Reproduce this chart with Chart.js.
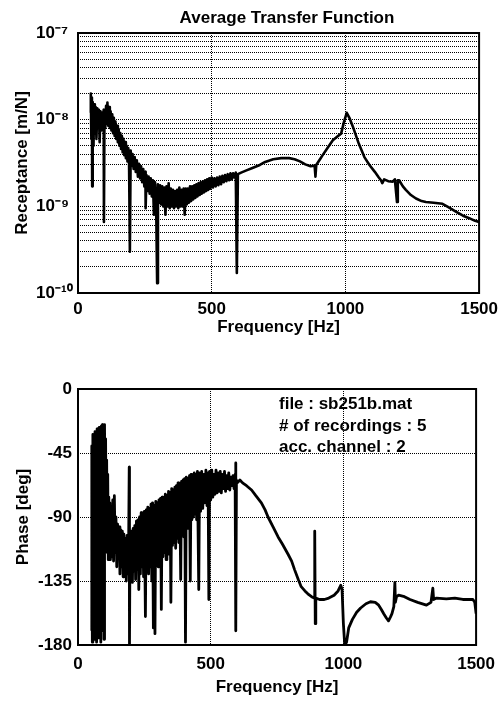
<!DOCTYPE html>
<html><head><meta charset="utf-8">
<script src="https://cdn.jsdelivr.net/npm/chart.js@4.4.0/dist/chart.umd.min.js"></script>
<style>
html,body{margin:0;padding:0;background:#fff;}
canvas{display:block;}
</style></head><body>
<canvas id="c1" width="504" height="340"></canvas>
<canvas id="c2" width="504" height="363"></canvas>
<script>
// ---------- data ----------
const chartTitle = 'Average Transfer Function';
const magAxisTitle = 'Receptance [m/N]';
const phaseAxisTitle = 'Phase [deg]';
const freqAxisTitle = 'Frequency [Hz]';
const infoLines = ['file : sb251b.mat', '# of recordings : 5', 'acc. channel : 2'];
const freqTicks = [0, 500, 1000, 1500];
const magDecades = [-10, -9, -8, -7];
const phaseTicks = [0, -45, -90, -135, -180];

const magFreq = [
45,48,50,52,53,55,58,60,63,66,69,72,75,78,81,84,87,90,93,96,97,99,
102,105,108,110,113,116,119,122,125,128,131,134,137,140,143,146,149,
152,155,158,161,164,167,170,173,176,179,182,185,188,191,194,197,200,
204,208,212,216,220,224,228,232,236,240,244,248,252,253,256,260,264,268,272,276,280,284,288,292,296,299,
303,307,311,315,319,323,327,331,335,339,343,347,351,355,359,363,367,371,375,379,383,387,391,395,399,
403,407,411,415,419,423,427,431,435,439,443,447,451,455,459,463,467,471,475,479,483,487,491,495,500,
505,510,515,520,525,530,535,540,545,550,555,560,565,570,575,580,585,590,594,598,
610,630,650,680,700,730,760,790,810,830,850,870,885,888,891,905,915,935,953,970,984,995,1005,1015,1028,
1050,1071,1090,1110,1125,1133,1138,1145,1160,1177,1185,1193,1196,1201,1215,1226,1245,1264,1285,1301,
1330,1363,1385,1413,1440,1463,1485,1500];
const magValue = [
1.2e-8,2.0e-8,6e-9,1.8e-8,1.7e-9,1.6e-8,5e-9,1.5e-8,7e-9,1.4e-8,6e-9,1.35e-8,8e-9,1.3e-8,5.5e-9,1.25e-8,7.5e-9,1.2e-8,8e-9,1.3e-8,6.6e-10,1.2e-8,
8e-9,1.45e-8,9e-9,1.58e-8,8.5e-9,1.4e-8,8e-9,1.25e-8,7.5e-9,1.15e-8,7e-9,1.05e-8,6.5e-9,9.5e-9,6e-9,8.5e-9,5.5e-9,
7.8e-9,5e-9,7e-9,4.6e-9,6.5e-9,4.2e-9,6e-9,3.9e-9,5.5e-9,3.6e-9,5e-9,3.3e-9,4.7e-9,3.1e-9,3.0e-10,4.4e-9,2.9e-9,
4.0e-9,2.7e-9,3.7e-9,2.5e-9,3.4e-9,2.2e-9,3.1e-9,2.1e-9,2.9e-9,1.9e-9,2.7e-9,1.7e-9,2.5e-9,9.5e-10,2.3e-9,1.5e-9,2.2e-9,1.4e-9,2.1e-9,1.3e-9,2.0e-9,8e-10,1.9e-9,1.2e-9,1.3e-10,1.8e-9,
1.1e-9,1.75e-9,1.05e-9,1.7e-9,1.0e-9,1.65e-9,8e-10,1.7e-9,1.0e-9,1.85e-9,9.5e-10,1.6e-9,1.0e-9,1.55e-9,9.5e-10,1.5e-9,1.0e-9,1.55e-9,9.5e-10,1.65e-9,1.0e-9,1.55e-9,1.0e-9,1.6e-9,8e-10,
1.6e-9,1.05e-9,1.6e-9,1.1e-9,1.7e-9,1.15e-9,1.7e-9,1.2e-9,1.75e-9,1.25e-9,1.8e-9,1.3e-9,1.85e-9,1.35e-9,1.9e-9,1.4e-9,1.95e-9,1.45e-9,2.0e-9,1.5e-9,2.05e-9,1.55e-9,2.1e-9,1.6e-9,2.15e-9,
1.65e-9,2.1e-9,1.7e-9,2.15e-9,1.75e-9,2.2e-9,1.8e-9,2.25e-9,1.9e-9,2.3e-9,1.95e-9,2.35e-9,2.0e-9,2.4e-9,2.05e-9,2.4e-9,2.15e-9,2.45e-9,1.7e-10,2.35e-9,
2.45e-9,2.6e-9,2.75e-9,3.0e-9,3.25e-9,3.5e-9,3.6e-9,3.6e-9,3.5e-9,3.3e-9,3.05e-9,2.9e-9,2.95e-9,2.2e-9,3.0e-9,3.5e-9,3.9e-9,4.8e-9,5.8e-9,6.4e-9,6.9e-9,9.5e-9,1.2e-8,1.05e-8,8.3e-9,
5.3e-9,3.7e-9,3.0e-9,2.5e-9,2.15e-9,2.0e-9,1.85e-9,2.05e-9,1.95e-9,1.93e-9,2.05e-9,1.12e-9,2.0e-9,2.0e-9,1.7e-9,1.55e-9,1.35e-9,1.23e-9,1.15e-9,1.12e-9,
1.1e-9,1.07e-9,9.8e-10,8.7e-10,7.8e-10,7.3e-10,6.8e-10,6.6e-10];

const phaseFreq = [
50,52,54,56,58,60,62,64,66,68,70,72,74,76,78,80,82,84,86,88,90,92,94,96,98,100,102,104,106,108,110,112,114,116,118,120,122,
125,128,131,134,137,140,143,146,149,152,155,158,161,164,167,170,173,176,179,182,185,188,191,
193,194,196,199,202,205,208,211,214,217,220,223,226,229,232,235,238,241,244,247,250,
254,257,260,263,266,269,272,275,278,281,284,287,290,293,296,299,302,305,308,311,314,317,320,323,326,329,332,335,338,341,344,347,350,
353,356,359,362,365,368,371,374,377,380,383,387,390,393,396,399,402,405,408,411,414,417,420,423,426,429,432,435,438,441,444,447,450,
455,458,462,466,470,474,478,482,486,490,493,496,500,504,508,512,516,520,524,528,532,536,540,544,548,552,556,560,564,568,572,576,580,584,588,592,594,595,597,
600,610,620,635,654,670,691,705,716,735,754,770,791,805,816,830,841,855,866,880,890,892,894,896,910,928,945,965,980,990,
995,1000,1005,1012,1020,1034,1050,1065,1085,1102,1120,1133,1143,1152,1162,1170,1178,1183,1190,1194,1196,1200,1208,1230,1251,
1280,1313,1330,1337,1340,1351,1388,1420,1450,1488,1495,1500];
const phaseValue = [
-170,-40,-178,-32,-172,-35,-176,-30,-165,-33,-178,-28,-160,-30,-175,-27,-150,-30,-178,-26,-170,-25,-140,-28,-176,-25,-110,-35,-100,-50,-115,-60,-120,-76,-110,-80,-120,
-84,-118,-78,-121,-75,-115,-90,-125,-95,-118,-97,-130,-99,-125,-100,-132,-102,-128,-105,-135,-103,-130,-104,
-55,-180,-106,-130,-100,-136,-98,-128,-96,-134,-93,-127,-92,-141,-90,-130,-87,-125,-89,-132,-86,
-160,-85,-128,-83,-130,-84,-125,-81,-135,-80,-168,-82,-172,-79,-120,-80,-125,-78,-118,-77,-155,-76,-118,-78,-115,-74,-120,-75,-112,-72,-116,-73,-150,
-70,-110,-71,-108,-69,-112,-68,-105,-66,-108,-67,-134,-65,-100,-64,-104,-63,-178,-62,-98,-63,-95,-61,-135,-60,-92,-61,-90,-59,-88,-60,-92,-58,
-141,-59,-86,-58,-84,-60,-80,-57,-82,-59,-148,-58,-78,-57,-76,-60,-74,-57,-73,-59,-72,-58,-73,-60,-70,-58,-72,-61,-70,-59,-71,-62,-68,-61,-70,-60,-52,-170,-64,
-66,-64,-66,-68,-71,-75,-80,-85,-90,-97,-104,-109,-116,-121,-127,-134,-139,-142,-144,-146,-147,-100,-165,-147,-148,-148,-147,-145,-142,-138,
-141,-165,-180,-178,-168,-162,-157,-154,-151,-149.6,-150,-152,-155,-158,-161,-163,-160,-158,-153,-136,-150,-146,-145,-146,-148,
-150,-152,-150,-140,-148,-147,-147.5,-147,-148,-148,-150,-158];

// ---------- helpers ----------
const FONT = "'Liberation Sans', Arial, Helvetica, sans-serif";
const SUP = {'-':'\u207B','0':'\u2070','1':'\u00B9','2':'\u00B2','3':'\u00B3','4':'\u2074','5':'\u2075','6':'\u2076','7':'\u2077','8':'\u2078','9':'\u2079'};
function sup(n){ return String(n).split('').map(c => SUP[c]).join(''); }
const logTickValues = [];
for (let i = 0; i < magDecades.length - 1; i++) {
  for (let m = 1; m <= 9; m++) logTickValues.push(m * Math.pow(10, magDecades[i]));
}
logTickValues.push(Math.pow(10, magDecades[magDecades.length - 1]));

const gridCommon = { color: '#000', lineWidth: 1, drawTicks: false };
const borderCommon = { display: false, dash: [1, 1] };

const boxPlugin = {
  id: 'box',
  afterDraw(chart) {
    const {ctx, chartArea: a} = chart;
    ctx.save();
    ctx.strokeStyle = '#000';
    ctx.lineWidth = 2;
    ctx.strokeRect(a.left, a.top, a.right - a.left, a.bottom - a.top);
    ctx.restore();
  }
};
const textPlugin = {
  id: 'texts',
  afterDraw(chart, args, opts) {
    const ctx = chart.ctx;
    ctx.save();
    ctx.fillStyle = '#000';
    ctx.font = 'bold 17px ' + FONT;
    ctx.textAlign = opts.align || 'left';
    ctx.textBaseline = 'alphabetic';
    (opts.items || []).forEach(it => ctx.fillText(it.text, it.x, it.y));
    ctx.restore();
  }
};

Chart.defaults.font.family = FONT;
Chart.defaults.font.weight = 'bold';
Chart.defaults.font.size = 17;
Chart.defaults.color = '#000';

// ---------- magnitude chart ----------
new Chart(document.getElementById('c1'), {
  type: 'line',
  data: { datasets: [{
    data: magFreq.map((f, i) => ({x: f, y: magValue[i]})),
    borderColor: '#000', borderWidth: 2.6, pointRadius: 0, tension: 0,
    borderJoinStyle: 'round', fill: false
  }]},
  options: {
    responsive: false, animation: false, devicePixelRatio: 1,
    layout: { padding: { top: 33, right: 24, left: 36, bottom: 0 } },
    plugins: {
      legend: { display: false }, tooltip: { enabled: false },
      texts: { align: 'center', items: [{ text: chartTitle, x: 287, y: 23 }] }
    },
    scales: {
      x: {
        type: 'linear', min: freqTicks[0], max: freqTicks[freqTicks.length - 1],
        afterBuildTicks: s => { s.ticks = freqTicks.map(v => ({value: v})); },
        afterFit: s => { s.height = 47; },
        grid: gridCommon, border: borderCommon,
        ticks: { padding: 6, maxRotation: 0, autoSkip: false, callback: v => String(v) },
        title: { display: true, text: freqAxisTitle, padding: { top: 0, bottom: 2 } }
      },
      y: {
        type: 'logarithmic',
        min: Math.pow(10, magDecades[0]), max: Math.pow(10, magDecades[magDecades.length - 1]),
        afterBuildTicks: s => { s.ticks = logTickValues.map(v => ({value: v})); },
        afterFit: s => { s.width = 42; },
        grid: gridCommon, border: borderCommon,
        ticks: {
          autoSkip: false, crossAlign: 'far', padding: 0,
          callback: v => {
            const e = Math.log10(v), r = Math.round(e);
            return Math.abs(e - r) < 1e-6 ? '10' + sup(r) : '';
          }
        },
        title: { display: true, text: magAxisTitle, padding: { top: -24, bottom: 0 } }
      }
    }
  },
  plugins: [boxPlugin, textPlugin]
});

// ---------- phase chart ----------
new Chart(document.getElementById('c2'), {
  type: 'line',
  data: { datasets: [{
    data: phaseFreq.map((f, i) => ({x: f, y: phaseValue[i]})),
    borderColor: '#000', borderWidth: 2.8, pointRadius: 0, tension: 0,
    borderJoinStyle: 'round', fill: false
  }]},
  options: {
    responsive: false, animation: false, devicePixelRatio: 1,
    layout: { padding: { top: 49, right: 24, left: 0, bottom: 0 } },
    plugins: {
      legend: { display: false }, tooltip: { enabled: false },
      texts: { align: 'left', items: infoLines.map((t, i) => ({ text: t, x: 279, y: 69 + i * 21.5 })) }
    },
    scales: {
      x: {
        type: 'linear', min: freqTicks[0], max: freqTicks[freqTicks.length - 1],
        afterBuildTicks: s => { s.ticks = freqTicks.map(v => ({value: v})); },
        afterFit: s => { s.height = 58; },
        grid: gridCommon, border: borderCommon,
        ticks: { padding: 9, maxRotation: 0, autoSkip: false, callback: v => String(v) },
        title: { display: true, text: freqAxisTitle, padding: { top: 0, bottom: 5 } }
      },
      y: {
        type: 'linear', min: phaseTicks[phaseTicks.length - 1], max: phaseTicks[0],
        afterBuildTicks: s => { s.ticks = phaseTicks.map(v => ({value: v})); },
        afterFit: s => { s.width = 78; },
        grid: gridCommon, border: borderCommon,
        ticks: { autoSkip: false, padding: 6, callback: v => String(v) },
        title: { display: true, text: phaseAxisTitle, padding: { top: 13, bottom: 0 } }
      }
    }
  },
  plugins: [boxPlugin, textPlugin]
});
</script>
</body></html>
